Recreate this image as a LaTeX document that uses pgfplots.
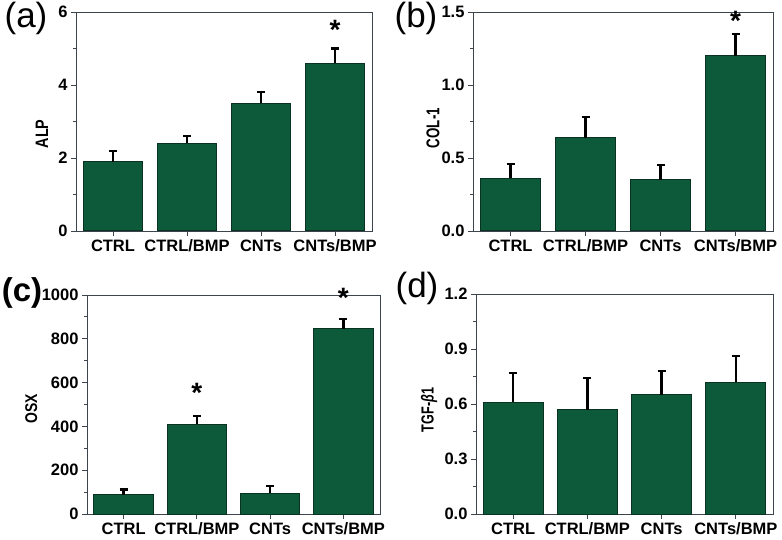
\documentclass[border=0pt]{standalone}
\usepackage{fontspec}
\setmainfont{Liberation Sans}
\usepackage{graphicx}
\usepackage{pgfplots}
\pgfplotsset{compat=1.18}
\definecolor{bargreen}{RGB}{12,90,58}
\definecolor{baredge}{RGB}{10,50,35}
\definecolor{frame}{RGB}{60,68,78}
\newcommand{\ylab}[3]{\fontsize{#1}{#1}\selectfont\bfseries\scalebox{#2}[1]{#3}}
\pgfplotsset{
  panel/.style={
    scale only axis,
    xmin=0.5, xmax=4.5,
    ymin=0,
    xtick={1,2,3,4},
    xticklabels={CTRL,CTRL/BMP,CNTs,CNTs/BMP},
    tick align=outside,
    xtick pos=bottom, ytick pos=left,
    major tick length=5pt, minor tick length=3pt,
    minor y tick num=1,
    axis line style={frame, line width=0.9pt},
    every tick/.style={frame, line width=0.9pt},
    tick label style={font=\fontsize{16.5}{18}\selectfont\bfseries, text=black},
    /pgf/number format/assume math mode=true,
    /pgf/number format/1000 sep={},
    every axis y label/.append style={anchor=center},
  },
  bars/.style={ybar, bar width=0.81, fill=bargreen, draw=baredge, line width=1pt,
    error bars/.cd, y dir=plus, y explicit,
    error bar style={black, line width=2.6pt},
    error mark options={black, line width=2.2pt, mark size=4pt, rotate=90}},
  star/.style={draw=none, mark=none, nodes near coords={*},
    nodes near coords style={anchor=center, font=\fontsize{28}{28}\selectfont\bfseries}},
}
\begin{document}
\begin{tikzpicture}
\useasboundingbox (0,0) rectangle (782pt,539pt);
% (a)
\begin{axis}[panel, at={(76pt,308pt)}, anchor=south west, width=296pt, height=219pt,
  ymax=6, ytick={0,2,4,6},
  ylabel={\ylab{18}{0.8}{ALP}}, ylabel style={at={(axis description cs:-0.115,0.443)}}]
\addplot[bars] table[x=x, y=y, y error=e] {
x y e
1 1.9 0.3
2 2.4 0.2
3 3.5 0.3
4 4.6 0.4
};
\addplot[star] coordinates {(4,5.52)};
\end{axis}
% (b)
\begin{axis}[panel, at={(473pt,308pt)}, anchor=south west, width=300pt, height=219pt,
  ymax=1.5, ytick={0,0.5,1.0,1.5},
  yticklabel style={/pgf/number format/fixed, /pgf/number format/fixed zerofill, /pgf/number format/precision=1},
  ylabel={\ylab{18.5}{0.72}{COL-1}}, ylabel style={at={(axis description cs:-0.133,0.47)}}]
\addplot[bars] table[x=x, y=y, y error=e] {
x y e
1 0.36 0.10
2 0.64 0.14
3 0.35 0.10
4 1.20 0.15
};
\addplot[star] coordinates {(4,1.44)};
\end{axis}
% (c)
\begin{axis}[panel, at={(87pt,25pt)}, anchor=south west, width=293pt, height=219pt,
  ymax=1000, ytick={0,200,400,600,800,1000},
  ylabel={\ylab{17}{0.82}{OSX}}, ylabel style={at={(axis description cs:-0.19,0.48)}}]
\addplot[bars] table[x=x, y=y, y error=e] {
x y e
1 88 24
2 410 38
3 95 33
4 845 47
};
\addplot[star] coordinates {(2,555) (4,985)};
\end{axis}
% (d)
\begin{axis}[panel, at={(476pt,25pt)}, anchor=south west, width=297pt, height=220pt,
  ymax=1.2, ytick={0,0.3,0.6,0.9,1.2},
  yticklabel style={/pgf/number format/fixed, /pgf/number format/fixed zerofill, /pgf/number format/precision=1},
  ylabel={\ylab{17.5}{0.72}{TGF-\textit{β}1}}, ylabel style={at={(axis description cs:-0.158,0.473)}}]
\addplot[bars] table[x=x, y=y, y error=e] {
x y e
1 0.61 0.16
2 0.57 0.17
3 0.65 0.13
4 0.72 0.14
};
\end{axis}
% panel letters
\node[font=\fontsize{35}{38}\selectfont] at (26pt,521pt) {(a)};
\node[font=\fontsize{35}{38}\selectfont] at (416pt,521pt) {(b)};
\node[font=\fontsize{33}{38}\selectfont\bfseries] at (22pt,246pt) {(c)};
\node[font=\fontsize{35}{38}\selectfont] at (417pt,251pt) {(d)};
\end{tikzpicture}
\end{document}
